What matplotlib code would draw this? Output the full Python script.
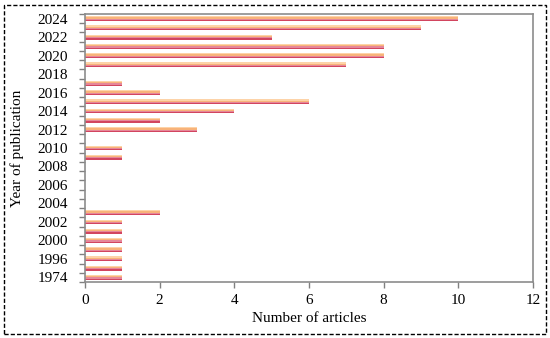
import matplotlib
matplotlib.use("Agg")
import matplotlib.pyplot as plt
from matplotlib.patches import Rectangle
import numpy as np

years = ["1974", "1993", "1996", "1998", "2000", "2001", "2002", "2003", "2004", "2005",
         "2006", "2007", "2008", "2009", "2010", "2011", "2012", "2013", "2014", "2015",
         "2016", "2017", "2018", "2019", "2020", "2021", "2022", "2023", "2024"]
articles = [1, 1, 1, 1, 1, 1, 1, 2, 0, 0,
            0, 0, 0, 1, 1, 0, 3, 2, 4, 6,
            2, 1, 0, 7, 8, 8, 5, 9, 10]
shown_labels = ["1974", "1996", "2000", "2002", "2004", "2006", "2008", "2010",
                "2012", "2014", "2016", "2018", "2020", "2022", "2024"]
stripe_colors = ["#D2455F", "#E5879A", "#F8B37A", "#FDD3A8"]  # bottom -> top

plt.rcParams['font.family'] = ['Liberation Serif', 'DejaVu Serif']

fig = plt.figure(figsize=(5.5, 3.38), dpi=100)
ax = fig.add_axes([85/550, 1 - 282/338, (533-85)/550, (282-14)/338])

pos = np.arange(len(years))
stripe_h = 0.13
n = len(stripe_colors)
for i, c in enumerate(stripe_colors):
    off = (i - (n - 1) / 2) * stripe_h
    ax.barh(pos + off, articles, height=stripe_h, color=c, linewidth=0)

ax.set_xlim(0, 12)
ax.set_ylim(-0.5, len(years) - 0.5)
ax.set_xticks(range(0, 13, 2))
ax.set_yticks([pos[years.index(y)] for y in shown_labels])
ax.set_yticklabels(shown_labels)
ax.set_yticks(np.arange(-0.5, len(years), 1.0), minor=True)
ax.tick_params(axis='y', which='major', length=0, pad=12, labelsize=11)
ax.tick_params(axis='y', which='minor', length=4, color='#808080', width=1)
ax.tick_params(axis='x', which='major', length=4, color='#808080', width=1, labelsize=11, pad=5)

for s in ax.spines.values():
    s.set_color('#8c8c8c')
    s.set_linewidth(1.2)

ax.set_xlabel("Number of articles", fontsize=11, labelpad=3)
ax.set_ylabel("Year of publication", fontsize=11, labelpad=10)

fig.patches.append(Rectangle((4/550, 4/338), 542/550, 329/338, transform=fig.transFigure,
                             fill=False, edgecolor='black', linestyle=(0, (3, 1.5)),
                             linewidth=1.0))

fig.savefig("out.png", dpi=100)
